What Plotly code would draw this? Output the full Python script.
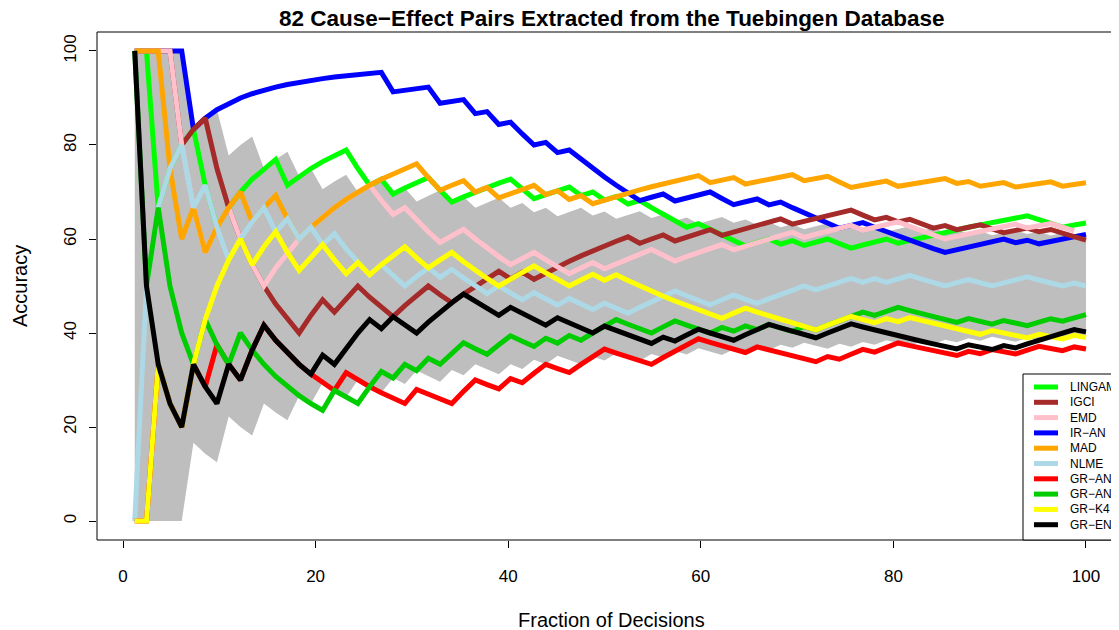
import plotly.graph_objects as go

# ---------------- data ----------------
n_pairs = 82
k_idx = list(range(1, n_pairs + 1))          # number of decisions taken
x_ticks = [0, 20, 40, 60, 80, 100]
y_ticks = [0, 20, 40, 60, 80, 100]

labels = ["LINGAM", "IGCI", "EMD", "IR\u2212AN", "MAD", "NLME",
          "GR\u2212AN", "GR\u2212AN*", "GR\u2212K4", "GR\u2212ENT"]
colors = ["#00FF00", "#A52A2A", "#FFC0CB", "#0000FF", "#FFA500", "#ADD8E6",
          "#FF0000", "#00CD00", "#FFFF00", "#000000"]

# decision outcomes as run lengths: +n = n correct, -n = n wrong
runs_lingam = [2, -1, 3, -2, 5, -1, 5, -2, 1, -1, 3, -2, 5, -2, 3, -1, 1, -1, 1, -1, 1, -4,
               1, -4, 2, -1, 1, -1, 2, -2, 3, -1, 11, -3, 2]
runs_igci = [4, -1, 2, -8, 2, -1, 2, -3, 3, -2, 4, -1, 1, -1, 8, -1, 2, -1, 3, -1, 5, -1,
             5, -2, 1, -1, 1, -2, 1, -1, 2, -2, 2, -1, 1, -3]
runs_emd = [4, -3, 2, -3, 9, -2, 1, -3, 2, -4, 2, -3, 2, -1, 4, -2, 4, -1, 5, -1, 4, -1,
            3, -4, 6, -1, 2, -2]
runs_iran = [5, -1, 16, -1, 3, -1, 2, -1, 1, -1, 1, -2, 1, -1, 1, -6, 2, -1, 3, -2, 2, -1,
             1, -5, 2, -7, 5, -1, 1, -1, 4]
runs_mad = [3, -2, 1, -1, 3, -1, 2, -2, 10, -2, 2, -1, 1, -1, 3, -1, 1, -1, 1, -1, 9, -1,
            2, -1, 4, -1, 2, -2, 3, -1, 4, -1, 1, -1, 2, -1, 3, -1, 2]
runs_nlme = [-1, 4, -1, 1, -2, 3, -1, 1, -1, 1, -1, 1, -3, 1, -2, 2, -1, 1, -3, 1, -2, 1,
             -2, 1, -2, 1, -2, 4, -3, 2, -2, 4, -1, 3, -1, 1, -1, 2, -3, 2, -2, 3, -3, 1,
             -1]
runs_gran = [-2, 1, -2, 1, -1, 1, -2, 2, -6, 1, -5, 1, -3, 2, -2, 1, -1, 2, -2, 3, -4, 4,
             -4, 1, -5, 1, -1, 2, -1, 2, -5, 1, -1, 1, -2, 2, -2, 1, -1]
runs_granstar = [1, -1, 1, -3, 1, -2, 1, -7, 1, -2, 2, -1, 1, -1, 1, -1, 2, -2, 2, -2, 1,
                 -1, 1, -1, 3, -3, 2, -3, 1, -1, 1, -1, 1, -2, 1, -1, 4, -1, 2, -5, 1, -2,
                 1, -2, 2, -1, 2]
runs_grk4 = [-2, 1, -2, 5, -1, 2, -2, 2, -2, 1, -1, 3, -2, 2, -4, 3, -3, 2, -1, 1, -9, 2,
             -6, 3, -2, 1, -1, 1, -6, 1, -3, 1, -2, 1, -1]
runs_grent = [1, -4, 1, -2, 1, -1, 2, -4, 1, -1, 3, -1, 1, -2, 4, -3, 1, -3, 1, -3, 1, -4,
              1, -1, 2, -3, 3, -4, 3, -9, 1, -2, 1, -1, 5, -1]

# 95% band of random guessing: lower / upper number of correct decisions at each k
band_lo = [0, 0, 0, 0, 0, 1, 1, 1, 2, 2, 2, 3, 3, 3, 4, 4, 5, 5, 5, 6, 6, 6, 7, 7, 8, 8,
           8, 9, 9, 10, 10, 10, 11, 11, 12, 12, 13, 13, 13, 14, 14, 15, 15, 15, 16, 16,
           17, 17, 18, 18, 18, 19, 19, 20, 20, 21, 21, 22, 22, 22, 23, 23, 24, 24, 25,
           25, 25, 26, 26, 27, 27, 28, 28, 29, 29, 29, 30, 30, 31, 31, 32, 32]
band_hi = [1, 2, 3, 4, 5, 5, 6, 7, 7, 8, 9, 9, 10, 11, 11, 12, 12, 13, 14, 14, 15, 16, 16,
           17, 17, 18, 19, 19, 20, 20, 21, 22, 22, 23, 23, 24, 24, 25, 26, 26, 27, 27,
           28, 29, 29, 30, 30, 31, 31, 32, 33, 33, 34, 34, 35, 35, 36, 36, 37, 38, 38, 39,
           39, 40, 40, 41, 42, 42, 43, 43, 44, 44, 45, 45, 46, 47, 47, 48, 48, 49, 49, 50]

# ---------------- helpers ----------------
x_frac = [100.0 * k / n_pairs for k in k_idx]


def accuracy(runs):
    out = []
    for r in runs:
        out += [1 if r > 0 else 0] * abs(r)
    acc, c = [], 0
    for i, o in enumerate(out):
        c += o
        acc.append(100.0 * c / (i + 1))
    return acc


series = {
    "LINGAM": runs_lingam, "IGCI": runs_igci, "EMD": runs_emd, "IR\u2212AN": runs_iran,
    "MAD": runs_mad, "NLME": runs_nlme, "GR\u2212AN": runs_gran,
    "GR\u2212AN*": runs_granstar, "GR\u2212K4": runs_grk4, "GR\u2212ENT": runs_grent,
}
col = dict(zip(labels, colors))

fig = go.Figure()

# grey band
lo_pct = [100.0 * v / k for v, k in zip(band_lo, k_idx)]
hi_pct = [100.0 * v / k for v, k in zip(band_hi, k_idx)]
fig.add_trace(go.Scatter(x=x_frac + x_frac[::-1], y=hi_pct + lo_pct[::-1],
                         fill="toself", fillcolor="#BEBEBE", line=dict(width=0),
                         mode="lines", hoverinfo="skip", showlegend=False))

draw_order = ["LINGAM", "IR\u2212AN", "IGCI", "EMD", "MAD", "NLME", "GR\u2212AN",
              "GR\u2212AN*", "GR\u2212K4", "GR\u2212ENT"]
for name in draw_order:
    fig.add_trace(go.Scatter(x=x_frac, y=accuracy(series[name]), mode="lines",
                             name=name, line=dict(color=col[name], width=5),
                             showlegend=False))

# ---------------- layout ----------------
# the page has an 8px body margin, so figure coords = screen coords - 8
OFF = 8
W, H = 1119, 630
L, R, T, B = 97 - OFF, 0, 32 - OFF, H - (540 - OFF)
pw, ph = W - L - R, H - T - B


def px(xs):          # screen x -> paper x
    return (xs - OFF - L) / pw


def py(ys):          # screen y -> paper y
    return (H - B - (ys - OFF)) / ph


font = "Liberation Sans, Arial, sans-serif"
fig.update_layout(
    width=W, height=H, margin=dict(l=L, r=R, t=T, b=B),
    plot_bgcolor="white", paper_bgcolor="white",
    font=dict(family=font, size=16, color="black"),
    xaxis=dict(range=[-2.70, 104.26], tickvals=x_ticks, ticks="outside", ticklen=7,
               tickcolor="black", showgrid=False, zeroline=False, showline=False,
               tickfont=dict(size=17), ticklabelstandoff=14),
    yaxis=dict(range=[-4.04, 104.04], tickvals=y_ticks, ticks="outside", ticklen=7,
               tickcolor="black", showgrid=False, zeroline=False, showline=False,
               tickangle=-90, tickfont=dict(size=17), ticklabelstandoff=6),
    showlegend=False,
)

shapes = [dict(type="rect", xref="paper", yref="paper", x0=0, x1=1.05, y0=0, y1=1,
               line=dict(color="black", width=1), fillcolor="rgba(0,0,0,0)",
               layer="above")]
annotations = [
    dict(text="<b>82 Cause\u2212Effect Pairs Extracted from the Tuebingen Database</b>",
         xref="paper", yref="paper", x=px(611), y=py(18), showarrow=False,
         font=dict(size=22.5), xanchor="center", yanchor="middle"),
    dict(text="Fraction of Decisions", xref="paper", yref="paper", x=px(611), y=py(620),
         showarrow=False, font=dict(size=20), xanchor="center", yanchor="middle"),
    dict(text="Accuracy", xref="paper", yref="paper", x=px(20), y=py(286),
         showarrow=False, font=dict(size=20), textangle=-90, xanchor="center",
         yanchor="middle"),
]

# legend box (bottom right, cut by the page edge as in the original)
shapes.append(dict(type="rect", xref="paper", yref="paper", x0=px(1023), x1=1.05,
                   y0=py(540), y1=py(374), line=dict(color="black", width=1),
                   fillcolor="white", layer="above"))
for i, name in enumerate(labels):
    yy = 387 + i * 15.3
    shapes.append(dict(type="line", xref="paper", yref="paper", x0=px(1034), x1=px(1058),
                       y0=py(yy), y1=py(yy), line=dict(color=col[name], width=5),
                       layer="above"))
    annotations.append(dict(text=name, xref="paper", yref="paper", x=px(1068), y=py(yy),
                            showarrow=False, xanchor="left", yanchor="middle",
                            font=dict(size=12)))

fig.update_layout(shapes=shapes, annotations=annotations)
fig.write_html("out.html")
